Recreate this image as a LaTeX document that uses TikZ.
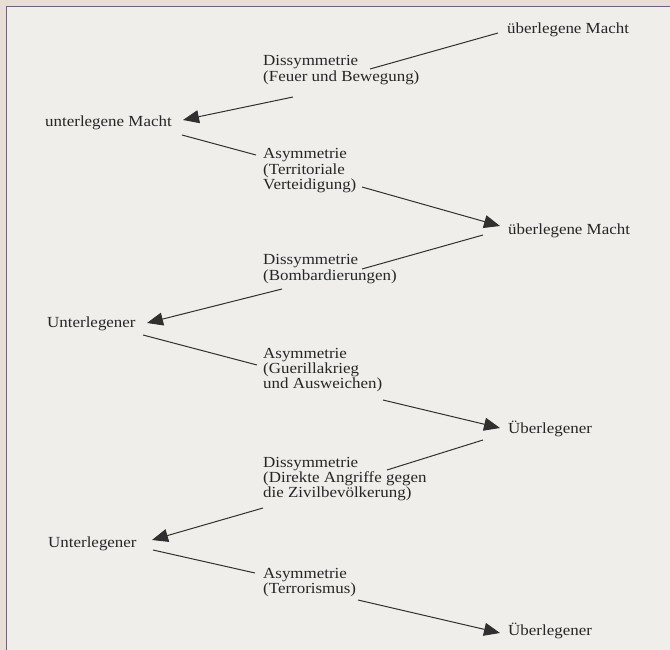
\documentclass[tikz,border=0pt]{standalone}
\usepackage{fontspec}
\setmainfont[FakeStretch=1.1]{Liberation Serif}
\usetikzlibrary{arrows.meta,calc}
\definecolor{paper}{HTML}{EFEEEA}
\definecolor{outer}{HTML}{E8DED6}
\definecolor{framec}{HTML}{6B6478}
\definecolor{ink}{HTML}{262626}
\definecolor{linec}{HTML}{303030}
\tikzset{
  lbl/.style={anchor=base west, inner sep=0pt, text=ink, font=\fontsize{15.4}{15.3}\selectfont},
  conn/.style={draw=linec, line width=1pt},
  arr/.style={conn, -{Triangle[length=16pt,width=13pt]}},
}
\newcommand{\lines}[1]{\begin{tabular}[t]{@{}l@{}}#1\end{tabular}}
\begin{document}
\begin{tikzpicture}[x=1pt,y=-1pt]
\useasboundingbox (0,0) rectangle (670,650);
\fill[outer] (0,0) rectangle (670,650);
\fill[paper] (6.5,6.5) rectangle (670,650);
\draw[framec, line width=1.4pt] (670,6.5) -- (6.5,6.5) -- (6.5,650);

% main nodes
\node[lbl] (P1) at (507,34) {überlegene Macht};
\node[lbl] (U1) at (45,127) {unterlegene Macht};
\node[lbl] (P2) at (508,235) {überlegene Macht};
\node[lbl] (U2) at (47,327) {Unterlegener};
\node[lbl] (P3) at (508,433) {Überlegener};
\node[lbl] (U3) at (48,547) {Unterlegener};
\node[lbl] (P4) at (508,635) {Überlegener};

% label nodes
\node[lbl] (D1) at (263,66) {\lines{Dissymmetrie\\(Feuer und Bewegung)}};
\node[lbl] (A1) at (263,159) {\lines{Asymmetrie\\(Territoriale\\Verteidigung)}};
\node[lbl] (D2) at (263,265) {\lines{Dissymmetrie\\(Bombardierungen)}};
\node[lbl] (A2) at (263,358) {\lines{Asymmetrie\\(Guerillakrieg\\und Ausweichen)}};
\node[lbl] (D3) at (263,467) {\lines{Dissymmetrie\\(Direkte Angriffe gegen\\die Zivilbevölkerung)}};
\node[lbl] (A3) at (263,578) {\lines{Asymmetrie\\(Terrorismus)}};

% connectors
\draw[conn] ($(P1.base west)+(-9,-1)$) -- ($(D1.base west)+(107,3)$);
\draw[arr]  ($(D1.base west)+(30,31)$) -- ($(U1.base west)+(138,-7)$);
\draw[conn] ($(U1.base west)+(137,8)$) -- ($(A1.base west)+(-7,-4)$);
\draw[arr]  ($(A1.base west)+(99,28)$) -- ($(P2.base west)+(-8,-9)$);
\draw[conn] ($(P2.base west)+(-25,0)$) -- ($(D2.base west)+(99,4)$);
\draw[arr]  ($(D2.base west)+(19,24)$) -- ($(U2.base west)+(100,-4)$);
\draw[conn] ($(U2.base west)+(96,8)$) -- ($(A2.base west)+(-6,7)$);
\draw[arr]  ($(A2.base west)+(120,42)$) -- ($(P3.base west)+(-8,-5)$);
\draw[conn] ($(P3.base west)+(-25,7)$) -- ($(D3.base west)+(124,3)$);
\draw[arr]  ($(D3.base west)+(0,41)$) -- ($(U3.base west)+(104,-7)$);
\draw[conn] ($(U3.base west)+(105,3)$) -- ($(A3.base west)+(-8,-5)$);
\draw[arr]  ($(A3.base west)+(95,22)$) -- ($(P4.base west)+(-8,-2)$);
\end{tikzpicture}
\end{document}
